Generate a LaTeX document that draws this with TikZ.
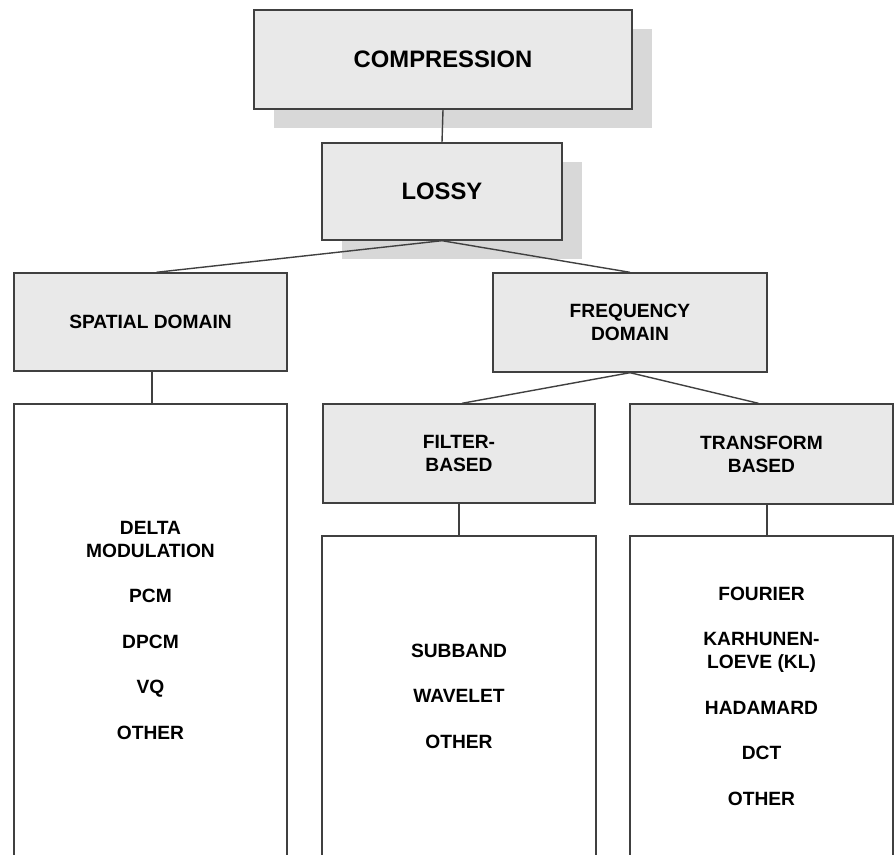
\documentclass[tikz,border=0pt]{standalone}
\usepackage{fontspec}
\setmainfont{Liberation Sans}
\usetikzlibrary{shadows}
\definecolor{boxgray}{RGB}{233,233,233}
\definecolor{shadowgray}{RGB}{216,216,216}
\definecolor{edgegray}{RGB}{64,64,64}

\begin{document}
\begin{tikzpicture}[
    x=1pt, y=-1pt,
    font=\fontsize{19.2}{23}\selectfont\bfseries,
    headbox/.style={draw=edgegray, line width=1.4pt, fill=boxgray, align=center, inner sep=0pt},
    topbox/.style={headbox, font=\fontsize{23.8}{27}\selectfont\bfseries,
        drop shadow={shadow xshift=20pt, shadow yshift=-19pt, fill=shadowgray, opacity=1}},
    listbox/.style={draw=edgegray, line width=1.4pt, fill=white, align=center, inner sep=0pt},
    link/.style={edgegray, line width=1.4pt},
]

% --- Page frame (bottom of the list boxes is cut off) ---
\useasboundingbox (0,0) rectangle (894,854);
\clip (0,0) rectangle (894,854);

% --- Top two levels (with shadow) ---
\node[topbox, minimum width=378, minimum height=99] (comp) at (443, 59.5) {COMPRESSION};
\node[topbox, minimum width=240, minimum height=97] (lossy) at (442, 191.5) {LOSSY};

% --- Domains ---
\node[headbox, minimum width=273, minimum height=98] (spatial) at (150.5, 322) {SPATIAL DOMAIN};
\node[headbox, minimum width=274, minimum height=99] (freq) at (630, 322.5) {FREQUENCY\\DOMAIN};

% --- Frequency sub-branches ---
\node[headbox, minimum width=272, minimum height=99] (filter) at (459, 453.5) {FILTER-\\BASED};
\node[headbox, minimum width=263, minimum height=100] (transform) at (761.5, 454) {TRANSFORM\\BASED};

% --- Method lists ---
\node[listbox, minimum width=273, minimum height=452] (spatlist) at (150.5, 630)
    {DELTA\\MODULATION\\[22.5pt]PCM\\[22.5pt]DPCM\\[22.5pt]VQ\\[22.5pt]OTHER};
\node[listbox, minimum width=274, minimum height=320] (filtlist) at (459, 696)
    {SUBBAND\\[22.5pt]WAVELET\\[22.5pt]OTHER};
\node[listbox, minimum width=263, minimum height=320] (translist) at (761.5, 696)
    {FOURIER\\[22.5pt]KARHUNEN-\\LOEVE (KL)\\[22.5pt]HADAMARD\\[22.5pt]DCT\\[22.5pt]OTHER};

% --- Connectors ---
\draw[link] (comp.south) -- (lossy.north);
\draw[link] (lossy.south) -- ([xshift=6pt]spatial.north);
\draw[link] (lossy.south) -- (freq.north);
\draw[link] (freq.south) -- ([xshift=3pt]filter.north);
\draw[link] (freq.south) -- ([xshift=-3pt]transform.north);
\draw[link] ([xshift=1.5pt]spatial.south) -- ([xshift=1.5pt]spatlist.north);
\draw[link] (filter.south) -- (filtlist.north);
\draw[link] ([xshift=5.5pt]transform.south) -- ([xshift=5.5pt]translist.north);

\end{tikzpicture}
\end{document}
